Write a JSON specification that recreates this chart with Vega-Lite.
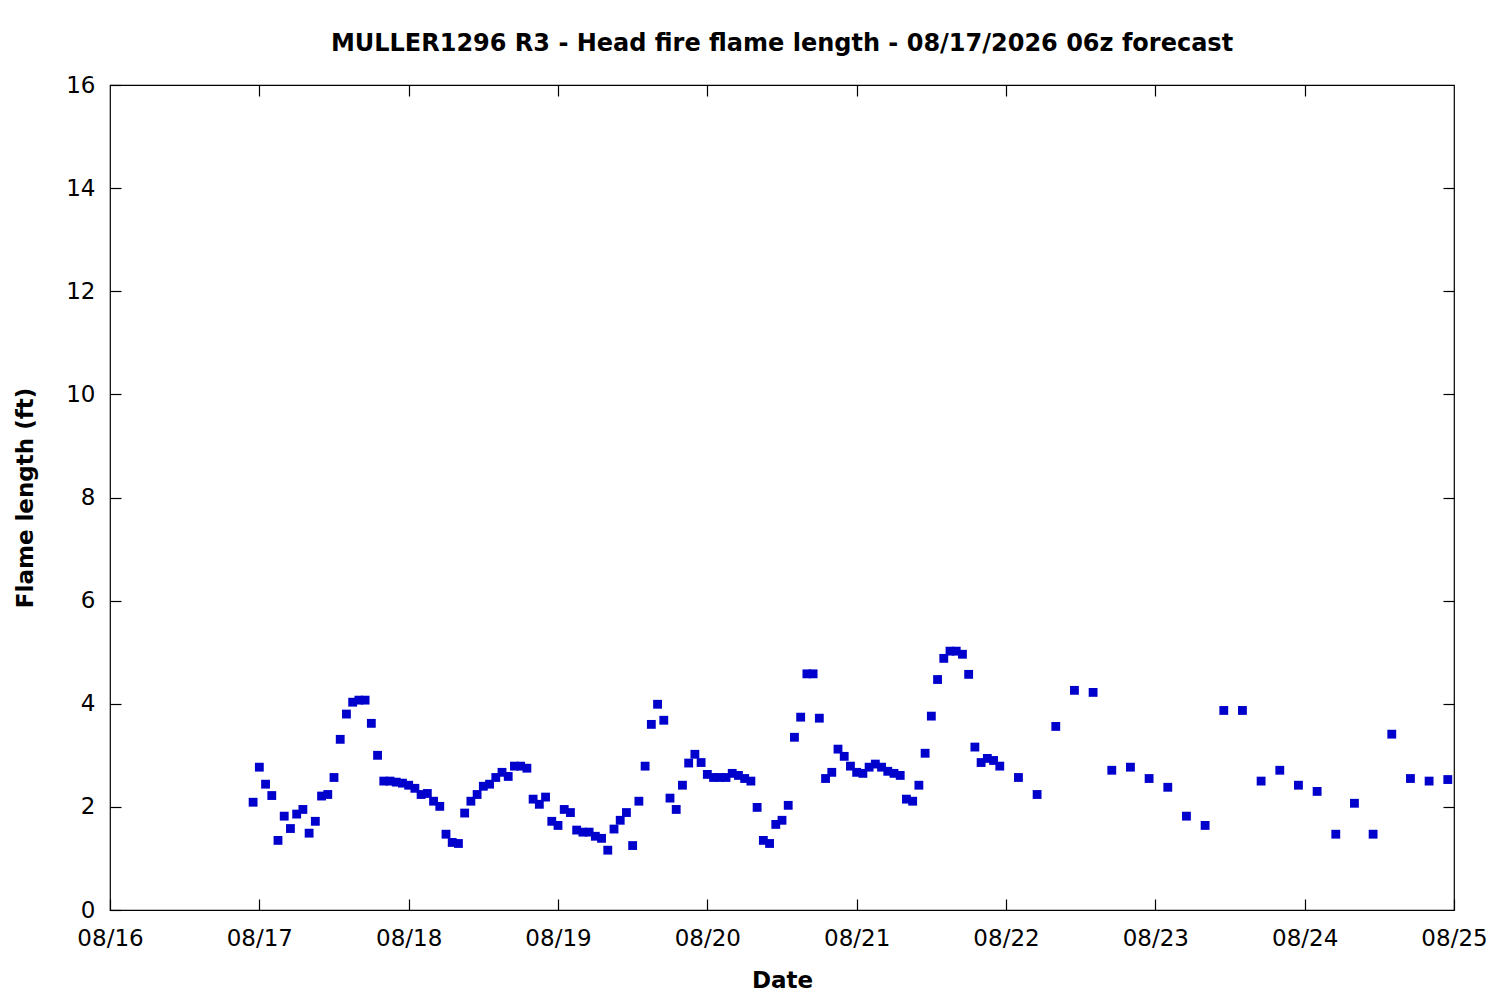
{
  "$schema": "https://vega.github.io/schema/vega-lite/v6.json",
  "width": 1344,
  "height": 825,
  "autosize": {"type": "none"},
  "padding": {"left": 110, "top": 85, "right": 46, "bottom": 90},
  "background": "white",
  "title": {
    "text": "MULLER1296 R3 - Head fire flame length - 08/17/2026 06z forecast",
    "font": "DejaVu Sans",
    "fontSize": 24,
    "fontWeight": "bold",
    "color": "#000000",
    "anchor": "middle",
    "offset": 18
  },
  "config": {
    "view": {"stroke": "#000000", "strokeWidth": 1.2},
    "axis": {
      "domain": false,
      "grid": false,
      "labelFont": "DejaVu Sans",
      "labelFontSize": 23,
      "labelColor": "#000000",
      "titleFont": "DejaVu Sans",
      "titleFontSize": 23,
      "titleFontWeight": "bold",
      "titleColor": "#000000",
      "tickColor": "#000000",
      "tickSize": -11,
      "tickWidth": 1.2
    }
  },
  "data": {
    "values": [
      {"t": "2026-08-16T23:00:00Z", "v": 2.09},
      {"t": "2026-08-17T00:00:00Z", "v": 2.77},
      {"t": "2026-08-17T01:00:00Z", "v": 2.44},
      {"t": "2026-08-17T02:00:00Z", "v": 2.22},
      {"t": "2026-08-17T03:00:00Z", "v": 1.35},
      {"t": "2026-08-17T04:00:00Z", "v": 1.82},
      {"t": "2026-08-17T05:00:00Z", "v": 1.58},
      {"t": "2026-08-17T06:00:00Z", "v": 1.86},
      {"t": "2026-08-17T07:00:00Z", "v": 1.95},
      {"t": "2026-08-17T08:00:00Z", "v": 1.49},
      {"t": "2026-08-17T09:00:00Z", "v": 1.72},
      {"t": "2026-08-17T10:00:00Z", "v": 2.21},
      {"t": "2026-08-17T11:00:00Z", "v": 2.24},
      {"t": "2026-08-17T12:00:00Z", "v": 2.57},
      {"t": "2026-08-17T13:00:00Z", "v": 3.31},
      {"t": "2026-08-17T14:00:00Z", "v": 3.80},
      {"t": "2026-08-17T15:00:00Z", "v": 4.03},
      {"t": "2026-08-17T16:00:00Z", "v": 4.07},
      {"t": "2026-08-17T17:00:00Z", "v": 4.07},
      {"t": "2026-08-17T18:00:00Z", "v": 3.62},
      {"t": "2026-08-17T19:00:00Z", "v": 3.00},
      {"t": "2026-08-17T20:00:00Z", "v": 2.50},
      {"t": "2026-08-17T21:00:00Z", "v": 2.50},
      {"t": "2026-08-17T22:00:00Z", "v": 2.48},
      {"t": "2026-08-17T23:00:00Z", "v": 2.46},
      {"t": "2026-08-18T00:00:00Z", "v": 2.42},
      {"t": "2026-08-18T01:00:00Z", "v": 2.36},
      {"t": "2026-08-18T02:00:00Z", "v": 2.24},
      {"t": "2026-08-18T03:00:00Z", "v": 2.26},
      {"t": "2026-08-18T04:00:00Z", "v": 2.11},
      {"t": "2026-08-18T05:00:00Z", "v": 2.01},
      {"t": "2026-08-18T06:00:00Z", "v": 1.47},
      {"t": "2026-08-18T07:00:00Z", "v": 1.31},
      {"t": "2026-08-18T08:00:00Z", "v": 1.29},
      {"t": "2026-08-18T09:00:00Z", "v": 1.88},
      {"t": "2026-08-18T10:00:00Z", "v": 2.11},
      {"t": "2026-08-18T11:00:00Z", "v": 2.24},
      {"t": "2026-08-18T12:00:00Z", "v": 2.40},
      {"t": "2026-08-18T13:00:00Z", "v": 2.44},
      {"t": "2026-08-18T14:00:00Z", "v": 2.57},
      {"t": "2026-08-18T15:00:00Z", "v": 2.67},
      {"t": "2026-08-18T16:00:00Z", "v": 2.59},
      {"t": "2026-08-18T17:00:00Z", "v": 2.79},
      {"t": "2026-08-18T18:00:00Z", "v": 2.79},
      {"t": "2026-08-18T19:00:00Z", "v": 2.75},
      {"t": "2026-08-18T20:00:00Z", "v": 2.15},
      {"t": "2026-08-18T21:00:00Z", "v": 2.05},
      {"t": "2026-08-18T22:00:00Z", "v": 2.19},
      {"t": "2026-08-18T23:00:00Z", "v": 1.72},
      {"t": "2026-08-19T00:00:00Z", "v": 1.64},
      {"t": "2026-08-19T01:00:00Z", "v": 1.95},
      {"t": "2026-08-19T02:00:00Z", "v": 1.89},
      {"t": "2026-08-19T03:00:00Z", "v": 1.55},
      {"t": "2026-08-19T04:00:00Z", "v": 1.51},
      {"t": "2026-08-19T05:00:00Z", "v": 1.51},
      {"t": "2026-08-19T06:00:00Z", "v": 1.43},
      {"t": "2026-08-19T07:00:00Z", "v": 1.39},
      {"t": "2026-08-19T08:00:00Z", "v": 1.16},
      {"t": "2026-08-19T09:00:00Z", "v": 1.57},
      {"t": "2026-08-19T10:00:00Z", "v": 1.74},
      {"t": "2026-08-19T11:00:00Z", "v": 1.89},
      {"t": "2026-08-19T12:00:00Z", "v": 1.25},
      {"t": "2026-08-19T13:00:00Z", "v": 2.11},
      {"t": "2026-08-19T14:00:00Z", "v": 2.79},
      {"t": "2026-08-19T15:00:00Z", "v": 3.60},
      {"t": "2026-08-19T16:00:00Z", "v": 3.99},
      {"t": "2026-08-19T17:00:00Z", "v": 3.68},
      {"t": "2026-08-19T18:00:00Z", "v": 2.17},
      {"t": "2026-08-19T19:00:00Z", "v": 1.95},
      {"t": "2026-08-19T20:00:00Z", "v": 2.42},
      {"t": "2026-08-19T21:00:00Z", "v": 2.85},
      {"t": "2026-08-19T22:00:00Z", "v": 3.02},
      {"t": "2026-08-19T23:00:00Z", "v": 2.86},
      {"t": "2026-08-20T00:00:00Z", "v": 2.63},
      {"t": "2026-08-20T01:00:00Z", "v": 2.57},
      {"t": "2026-08-20T02:00:00Z", "v": 2.57},
      {"t": "2026-08-20T03:00:00Z", "v": 2.57},
      {"t": "2026-08-20T04:00:00Z", "v": 2.65},
      {"t": "2026-08-20T05:00:00Z", "v": 2.61},
      {"t": "2026-08-20T06:00:00Z", "v": 2.55},
      {"t": "2026-08-20T07:00:00Z", "v": 2.50},
      {"t": "2026-08-20T08:00:00Z", "v": 1.99},
      {"t": "2026-08-20T09:00:00Z", "v": 1.35},
      {"t": "2026-08-20T10:00:00Z", "v": 1.29},
      {"t": "2026-08-20T11:00:00Z", "v": 1.66},
      {"t": "2026-08-20T12:00:00Z", "v": 1.74},
      {"t": "2026-08-20T13:00:00Z", "v": 2.03},
      {"t": "2026-08-20T14:00:00Z", "v": 3.35},
      {"t": "2026-08-20T15:00:00Z", "v": 3.74},
      {"t": "2026-08-20T16:00:00Z", "v": 4.58},
      {"t": "2026-08-20T17:00:00Z", "v": 4.58},
      {"t": "2026-08-20T18:00:00Z", "v": 3.72},
      {"t": "2026-08-20T19:00:00Z", "v": 2.55},
      {"t": "2026-08-20T20:00:00Z", "v": 2.67},
      {"t": "2026-08-20T21:00:00Z", "v": 3.12},
      {"t": "2026-08-20T22:00:00Z", "v": 2.98},
      {"t": "2026-08-20T23:00:00Z", "v": 2.79},
      {"t": "2026-08-21T00:00:00Z", "v": 2.67},
      {"t": "2026-08-21T01:00:00Z", "v": 2.65},
      {"t": "2026-08-21T02:00:00Z", "v": 2.77},
      {"t": "2026-08-21T03:00:00Z", "v": 2.83},
      {"t": "2026-08-21T04:00:00Z", "v": 2.77},
      {"t": "2026-08-21T05:00:00Z", "v": 2.69},
      {"t": "2026-08-21T06:00:00Z", "v": 2.65},
      {"t": "2026-08-21T07:00:00Z", "v": 2.61},
      {"t": "2026-08-21T08:00:00Z", "v": 2.15},
      {"t": "2026-08-21T09:00:00Z", "v": 2.11},
      {"t": "2026-08-21T10:00:00Z", "v": 2.42},
      {"t": "2026-08-21T11:00:00Z", "v": 3.04},
      {"t": "2026-08-21T12:00:00Z", "v": 3.76},
      {"t": "2026-08-21T13:00:00Z", "v": 4.47},
      {"t": "2026-08-21T14:00:00Z", "v": 4.88},
      {"t": "2026-08-21T15:00:00Z", "v": 5.02},
      {"t": "2026-08-21T16:00:00Z", "v": 5.02},
      {"t": "2026-08-21T17:00:00Z", "v": 4.96},
      {"t": "2026-08-21T18:00:00Z", "v": 4.57},
      {"t": "2026-08-21T19:00:00Z", "v": 3.16},
      {"t": "2026-08-21T20:00:00Z", "v": 2.86},
      {"t": "2026-08-21T21:00:00Z", "v": 2.94},
      {"t": "2026-08-21T22:00:00Z", "v": 2.90},
      {"t": "2026-08-21T23:00:00Z", "v": 2.79},
      {"t": "2026-08-22T02:00:00Z", "v": 2.57},
      {"t": "2026-08-22T05:00:00Z", "v": 2.24},
      {"t": "2026-08-22T08:00:00Z", "v": 3.56},
      {"t": "2026-08-22T11:00:00Z", "v": 4.26},
      {"t": "2026-08-22T14:00:00Z", "v": 4.22},
      {"t": "2026-08-22T17:00:00Z", "v": 2.71},
      {"t": "2026-08-22T20:00:00Z", "v": 2.77},
      {"t": "2026-08-22T23:00:00Z", "v": 2.55},
      {"t": "2026-08-23T02:00:00Z", "v": 2.38},
      {"t": "2026-08-23T05:00:00Z", "v": 1.82},
      {"t": "2026-08-23T08:00:00Z", "v": 1.64},
      {"t": "2026-08-23T11:00:00Z", "v": 3.87},
      {"t": "2026-08-23T14:00:00Z", "v": 3.87},
      {"t": "2026-08-23T17:00:00Z", "v": 2.50},
      {"t": "2026-08-23T20:00:00Z", "v": 2.71},
      {"t": "2026-08-23T23:00:00Z", "v": 2.42},
      {"t": "2026-08-24T02:00:00Z", "v": 2.30},
      {"t": "2026-08-24T05:00:00Z", "v": 1.47},
      {"t": "2026-08-24T08:00:00Z", "v": 2.07},
      {"t": "2026-08-24T11:00:00Z", "v": 1.47},
      {"t": "2026-08-24T14:00:00Z", "v": 3.41},
      {"t": "2026-08-24T17:00:00Z", "v": 2.55},
      {"t": "2026-08-24T20:00:00Z", "v": 2.50},
      {"t": "2026-08-24T23:00:00Z", "v": 2.53}
    ]
  },
  "layer": [
    {
      "mark": {"type": "point", "shape": "square", "filled": true, "size": 78, "color": "#0000cc", "opacity": 1},
      "encoding": {
        "x": {
          "field": "t",
          "type": "temporal",
          "title": "Date",
          "scale": {
            "type": "utc",
            "domain": [
              {"year": 2026, "month": 8, "date": 16, "utc": true},
              {"year": 2026, "month": 8, "date": 25, "utc": true}
            ]
          },
          "axis": {
            "labelExpr": "utcFormat(datum.value, '%m/%d')",
            "values": [
              {"year": 2026, "month": 8, "date": 16, "utc": true},
              {"year": 2026, "month": 8, "date": 17, "utc": true},
              {"year": 2026, "month": 8, "date": 18, "utc": true},
              {"year": 2026, "month": 8, "date": 19, "utc": true},
              {"year": 2026, "month": 8, "date": 20, "utc": true},
              {"year": 2026, "month": 8, "date": 21, "utc": true},
              {"year": 2026, "month": 8, "date": 22, "utc": true},
              {"year": 2026, "month": 8, "date": 23, "utc": true},
              {"year": 2026, "month": 8, "date": 24, "utc": true},
              {"year": 2026, "month": 8, "date": 25, "utc": true}
            ],
            "labelPadding": 28,
            "titlePadding": 19,
            "labelFlush": false,
            "labelOverlap": false
          }
        },
        "y": {
          "field": "v",
          "type": "quantitative",
          "title": "Flame length (ft)",
          "scale": {"domain": [0, 16], "nice": false, "zero": true},
          "axis": {
            "values": [0, 2, 4, 6, 8, 10, 12, 14, 16],
            "labelPadding": 26,
            "titlePadding": 28,
            "labelFlush": false,
            "labelOverlap": false
          }
        }
      }
    },
    {
      "mark": {"type": "point", "shape": "square", "filled": true, "size": 78, "color": "#0000cc", "opacity": 0},
      "encoding": {
        "x": {
          "field": "t",
          "type": "temporal",
          "axis": {
            "orient": "top",
            "labels": false,
            "title": null,
            "values": [
              {"year": 2026, "month": 8, "date": 17, "utc": true},
              {"year": 2026, "month": 8, "date": 18, "utc": true},
              {"year": 2026, "month": 8, "date": 19, "utc": true},
              {"year": 2026, "month": 8, "date": 20, "utc": true},
              {"year": 2026, "month": 8, "date": 21, "utc": true},
              {"year": 2026, "month": 8, "date": 22, "utc": true},
              {"year": 2026, "month": 8, "date": 23, "utc": true},
              {"year": 2026, "month": 8, "date": 24, "utc": true}
            ]
          }
        },
        "y": {
          "field": "v",
          "type": "quantitative",
          "axis": {
            "orient": "right",
            "labels": false,
            "title": null,
            "values": [2, 4, 6, 8, 10, 12, 14]
          }
        }
      }
    }
  ],
  "resolve": {"axis": {"x": "independent", "y": "independent"}}
}
